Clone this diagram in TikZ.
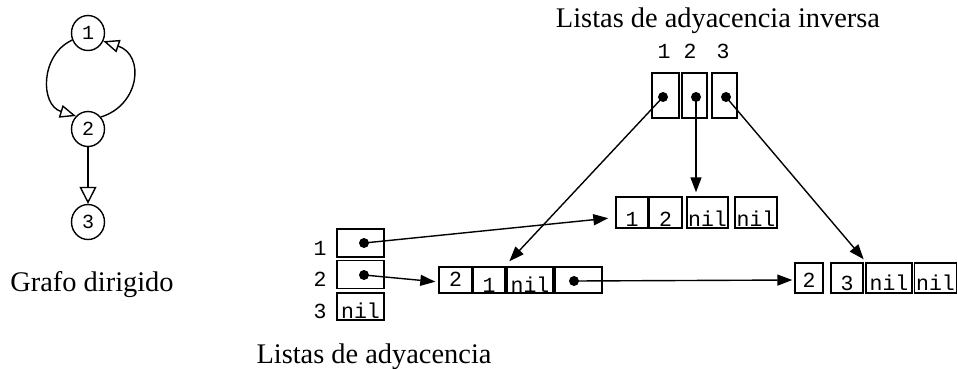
\documentclass[tikz,border=0pt]{standalone}
\usepackage{fontspec}
\setmainfont{Liberation Serif}
\setmonofont{Liberation Mono}
\usetikzlibrary{arrows.meta,shapes.geometric,calc}
\begin{document}
\begin{tikzpicture}[x=1pt,y=-1pt,
 cell/.style={draw,line width=1.4pt,inner sep=0pt,rectangle},
 mono/.style={font=\fontsize{21.5}{22}\selectfont\ttfamily, inner sep=0pt, anchor=base},
 title/.style={font=\fontsize{28.4}{30}\selectfont, inner sep=0pt, anchor=base},
 gnode/.style={draw,ellipse,line width=1.4pt,minimum width=33pt,minimum height=35pt,inner sep=0pt,font=\fontsize{20}{20}\selectfont\ttfamily},
 ptr/.style={line width=1.4pt,-{Triangle[length=15pt,width=11pt]}},
 garc/.style={line width=1.4pt,-{Triangle[open,length=16pt,width=13pt]}},
 gdown/.style={line width=1.4pt,-{Triangle[open,length=17pt,width=17pt]}},
 dot/.style={circle,fill,inner sep=0pt,minimum size=10pt}]
\useasboundingbox (0,0) rectangle (958,368);

% directed graph
\node[gnode] (n1) at (88,33) {1};
\node[gnode] (n2) at (88,129) {2};
\node[gnode] (n3) at (88,222) {3};
\draw[garc] (n1.204) .. controls (40,55) and (40,105) .. (n2.133);
\draw[garc] (n2.43) .. controls (140,105) and (145,55) .. (n1.332);
\draw[gdown] (n2) -- (n3);
\node[title] (tg) at (92,291) {Grafo dirigido};

% adjacency lists array
\node[cell,minimum width=47pt,minimum height=28pt] (a1) at (360.5,243) {};
\node[cell,minimum width=47pt,minimum height=28pt] (a2) at (360.5,274.5) {};
\node[cell,minimum width=47pt,minimum height=27pt] (a3) at (360.5,306.5) {};
\node[mono] (a3t) at (360.5,318) {nil};
\node[mono] (l1) at (320,255) {1};
\node[mono] (l2) at (320,286) {2};
\node[mono] (l3) at (320,318) {3};
\node[dot] (d1) at (364,243) {};
\node[dot] (d2) at (364,275) {};
\node[title] (tl) at (374,363) {Listas de adyacencia};

% upper list
\node[cell,minimum width=32pt,minimum height=31pt] (u1) at (632,212.5) {};
\node[cell,minimum width=33pt,minimum height=31pt] (u2) at (665.5,212.5) {};
\node[cell,minimum width=41pt,minimum height=31pt] (u3) at (707.5,212.5) {};
\node[cell,minimum width=42pt,minimum height=31pt] (u4) at (756,212.5) {};
\node[mono] (u1t) at (632,226) {1};
\node[mono] (u2t) at (665.5,226) {2};
\node[mono] (u3t) at (707.5,226) {nil};
\node[mono] (u4t) at (756,226) {nil};

% middle list
\node[cell,minimum width=33pt,minimum height=26pt] (m1) at (455.5,280) {};
\node[cell,minimum width=32pt,minimum height=26pt] (m2) at (489,280) {};
\node[cell,minimum width=46pt,minimum height=26pt] (m3) at (530,280) {};
\node[cell,minimum width=47pt,minimum height=26pt] (m4) at (578.5,280) {};
\node[mono] (m1t) at (455.5,286) {2};
\node[mono] (m2t) at (489,292) {1};
\node[mono] (m3t) at (530,292) {nil};
\node[dot] (dm) at (574,281) {};

% right list
\node[cell,minimum width=28pt,minimum height=30pt] (r1) at (809,278) {};
\node[cell,minimum width=32pt,minimum height=30pt] (r2) at (847,278) {};
\node[cell,minimum width=46pt,minimum height=30pt] (r3) at (889,278) {};
\node[cell,minimum width=42pt,minimum height=30pt] (r4) at (935.5,278) {};
\node[mono] (r1t) at (809,287) {2};
\node[mono] (r2t) at (847,290) {3};
\node[mono] (r3t) at (889,290) {nil};
\node[mono] (r4t) at (935.5,290) {nil};

% inverse array
\node[cell,minimum width=27pt,minimum height=45pt] (i1) at (665.5,95.5) {};
\node[cell,minimum width=25pt,minimum height=45pt] (i2) at (694.5,95.5) {};
\node[cell,minimum width=25pt,minimum height=45pt] (i3) at (724.5,95.5) {};
\node[mono] (il1) at (664,58) {1};
\node[mono] (il2) at (690,58) {2};
\node[mono] (il3) at (723,58) {3};
\node[dot] (di1) at (663,97) {};
\node[dot] (di2) at (696,97) {};
\node[dot] (di3) at (726,97) {};
\node[title] (ti) at (718,27) {Listas de adyacencia inversa};

% pointers
\draw[ptr,shorten >=7pt] (d1.center) -- ([yshift=-5pt]u1.west);
\draw[ptr,shorten >=3pt] (d2.center) -- ([yshift=-2pt]m1.west);
\draw[ptr,shorten >=2pt] (dm.center) -- ([yshift=-2pt]r1.west);
\draw[ptr] (di1.center) -- ([xshift=3pt,yshift=5pt]m3.north west);
\draw[ptr,shorten >=4pt] (di2.center) -- (di2.center |- u3.north);
\draw[ptr] (di3.center) -- ([yshift=3pt]r2.north east);
\end{tikzpicture}
\end{document}
